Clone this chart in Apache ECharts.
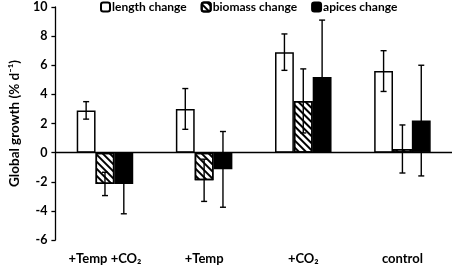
<!DOCTYPE html>
<html>
<head>
    <meta charset="utf-8">
    <title>Global growth</title>
    <script src="https://cdn.jsdelivr.net/npm/echarts@6/dist/echarts.min.js"></script>
</head>
<body style="margin:0">
<div id="main" style="width: 454px;height:269px;"></div>
<script type="text/javascript">
    // treatments on the x axis
    var categories = ['+Temp +CO₂', '+Temp', '+CO₂', 'control'];

    // mean growth (% d-1)
    var lengthChange = [2.9, 3.0, 6.9, 5.6];
    var biomassChange = [-2.15, -1.9, 3.55, 0.25];
    var apicesChange = [-2.15, -1.15, 5.2, 2.2];

    // error bar half-widths
    var lengthErr = [0.6, 1.4, 1.25, 1.4];
    var biomassErr = [0.8, 1.45, 2.2, 1.65];
    var apicesErr = [2.05, 2.6, 3.9, 3.8];

    var myChart = echarts.init(document.getElementById('main'));

    var barW = 0.19; // share of category width

    function errSeries(vals, errs, slot) {
        var data = vals.map(function (v, i) { return [i, v, errs[i]]; });
        return {
            type: 'custom',
            silent: true,
            z: 5,
            data: data,
            renderItem: function (params, api) {
                var i = api.value(0);
                var v = api.value(1);
                var e = api.value(2);
                var bw = api.size([1, 0])[0] * barW;
                var top = api.coord([i, v + e]);
                var bot = api.coord([i, v - e]);
                var x = top[0] + slot * bw;
                var cap = 3;
                var st = { stroke: '#000', lineWidth: 1.4 };
                return {
                    type: 'group',
                    children: [
                        { type: 'line', shape: { x1: x, y1: top[1], x2: x, y2: bot[1] }, style: st },
                        { type: 'line', shape: { x1: x - cap, y1: top[1], x2: x + cap, y2: top[1] }, style: st },
                        { type: 'line', shape: { x1: x - cap, y1: bot[1], x2: x + cap, y2: bot[1] }, style: st }
                    ]
                };
            }
        };
    }

    var font = 'Lato';

    option = {
        animation: false,
        textStyle: { fontFamily: font },
        legend: {
            left: 100,
            top: 1,
            padding: 0,
            itemWidth: 9,
            itemHeight: 9,
            itemGap: 14,
            textStyle: { fontFamily: font, fontWeight: 'bold', fontSize: 12, color: '#000', padding: [0, 0, 0, -3] },
            data: ['length change', 'biomass change', 'apices change']
        },
        grid: { left: 43, right: 2, top: 7, bottom: 29 },
        xAxis: [{
            type: 'category',
            data: categories,
            axisLine: { show: false, onZero: false },
            axisTick: { show: false },
            axisLabel: { fontFamily: font, fontWeight: 'bold', fontSize: 13, color: '#000', margin: 12 }
        }],
        yAxis: {
            type: 'value',
            min: -6,
            max: 10,
            interval: 2,
            name: 'Global growth (% d⁻¹)',
            nameLocation: 'middle',
            nameGap: 28,
            nameTextStyle: { fontFamily: font, fontWeight: 'bold', fontSize: 13.5, color: '#000' },
            axisLine: { show: true, lineStyle: { color: '#000', width: 1.3 } },
            axisTick: { show: true, length: 4, lineStyle: { color: '#000', width: 1.3 } },
            splitLine: { show: false },
            axisLabel: { fontFamily: font, fontWeight: 'bold', fontSize: 12.5, color: '#000', margin: 8 }
        },
        series: [
            {
                name: 'length change',
                type: 'bar',
                barWidth: '19%',
                barGap: '0%',
                itemStyle: { color: '#fff', borderColor: '#000', borderWidth: 1.5 },
                data: lengthChange,
                markLine: {
                    silent: true,
                    symbol: 'none',
                    label: { show: false },
                    lineStyle: { color: '#000', type: 'solid', width: 1.3 },
                    data: [{ yAxis: 0 }]
                }
            },
            {
                name: 'biomass change',
                type: 'bar',
                barWidth: '19%',
                barGap: '0%',
                itemStyle: {
                    color: '#fff',
                    borderColor: '#000',
                    borderWidth: 1.5,
                    decal: {
                        symbol: 'rect',
                        symbolSize: 1,
                        color: '#000',
                        dashArrayX: [1, 0],
                        dashArrayY: [2, 3],
                        rotation: Math.PI / 4
                    }
                },
                data: biomassChange
            },
            {
                name: 'apices change',
                type: 'bar',
                barWidth: '19%',
                barGap: '0%',
                itemStyle: { color: '#000', borderColor: '#000', borderWidth: 1.5 },
                data: apicesChange
            },
            errSeries(lengthChange, lengthErr, -1),
            errSeries(biomassChange, biomassErr, 0),
            errSeries(apicesChange, apicesErr, 1)
        ]
    };

    myChart.setOption(option);
</script>
</body>
</html>
